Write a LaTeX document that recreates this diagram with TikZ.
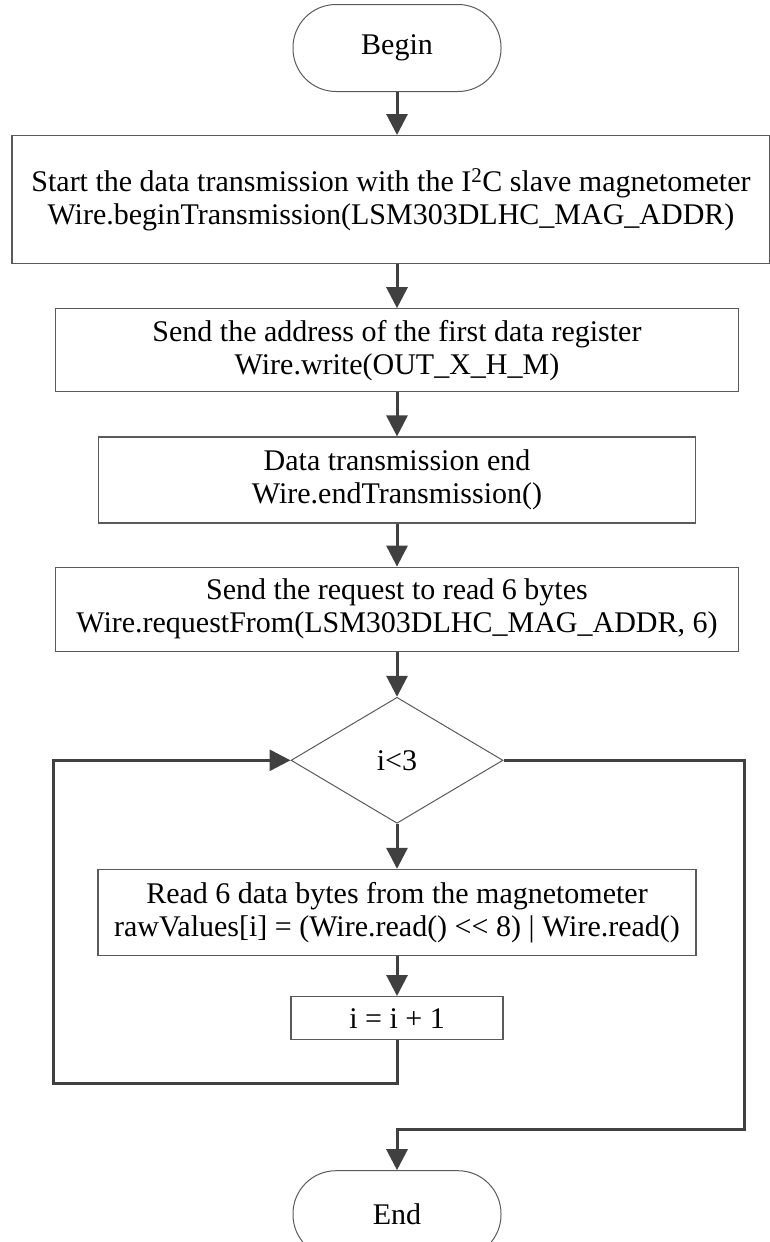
\documentclass[tikz,border=0pt]{standalone}
\usepackage{fontspec}
\setmainfont{Liberation Serif}
\usetikzlibrary{arrows.meta,shapes.geometric,positioning}
\definecolor{flowgray}{HTML}{404040}
\definecolor{boxgray}{HTML}{5A5A5A}
\begin{document}
\begin{tikzpicture}[x=1pt, y=-1pt, font=\fontsize{30}{33}\selectfont, >={Triangle[length=21pt, width=21pt]}]
      \tikzstyle{terminal} = [rectangle, draw=boxgray, line width=1pt, rounded corners=43pt, minimum width=208pt, minimum height=87pt]
      \tikzstyle{process}  = [rectangle, draw=boxgray, line width=1.2pt, align=center, inner sep=0]
      \tikzstyle{decision} = [diamond, draw=boxgray, line width=1pt, minimum width=212pt, minimum height=126pt, inner sep=0]
      \tikzstyle{flow}     = [->, draw=flowgray, line width=3pt]

      \useasboundingbox (0,0) rectangle (770,1242);

      \node[terminal]                                  (begin)   at (397,48) {Begin};
      \node[process, below=43pt of begin, xshift=-6pt,
            minimum width=758pt, minimum height=128pt] (start)   {Start the data transmission with the I\textsuperscript{2}C slave magnetometer\\Wire.beginTransmission(LSM303DLHC\_MAG\_ADDR)};
      \node[process, below=44pt of start, xshift=6pt,
            minimum width=683pt, minimum height=83pt]  (address) {Send the address of the first data register\\Wire.write(OUT\_X\_H\_M)};
      \node[process, below=44pt of address,
            minimum width=597pt, minimum height=86pt]  (stop)    {Data transmission end\\Wire.endTransmission()};
      \node[process, below=43pt of stop,
            minimum width=683pt, minimum height=84pt]  (request) {Send the request to read 6 bytes\\Wire.requestFrom(LSM303DLHC\_MAG\_ADDR, 6)};
      \node[decision, below=45pt of request]           (check)   {i<3};
      \node[process, below=45pt of check,
            minimum width=598pt, minimum height=86pt]  (read)    {Read 6 data bytes from the magnetometer\\rawValues[i] = (Wire.read() <\kern0pt< 8) | Wire.read()};
      \node[process, below=40pt of read,
            minimum width=212pt, minimum height=43pt]  (incr)    {i = i + 1};
      \node[terminal, below=130pt of incr]             (finish)  {End};

      \draw[flow] (begin) -- (begin |- start.north);
      \draw[flow] (start.south -| address.north) -- (address.north);
      \draw[flow] (address) -- (stop);
      \draw[flow] (stop)    -- (request);
      \draw[flow] (request) -- (check);
      \draw[flow] (check)   -- (read);
      \draw[flow] (read)    -- (incr);
      \draw[flow] (incr.south) -- ++(0,43) -| ([xshift=-237pt]check.west) -- (check.west);
      \draw[flow] (check.east) -- ++(241,0) |- ([yshift=41pt]finish.north) -- (finish.north);
    \end{tikzpicture}
\end{document}
